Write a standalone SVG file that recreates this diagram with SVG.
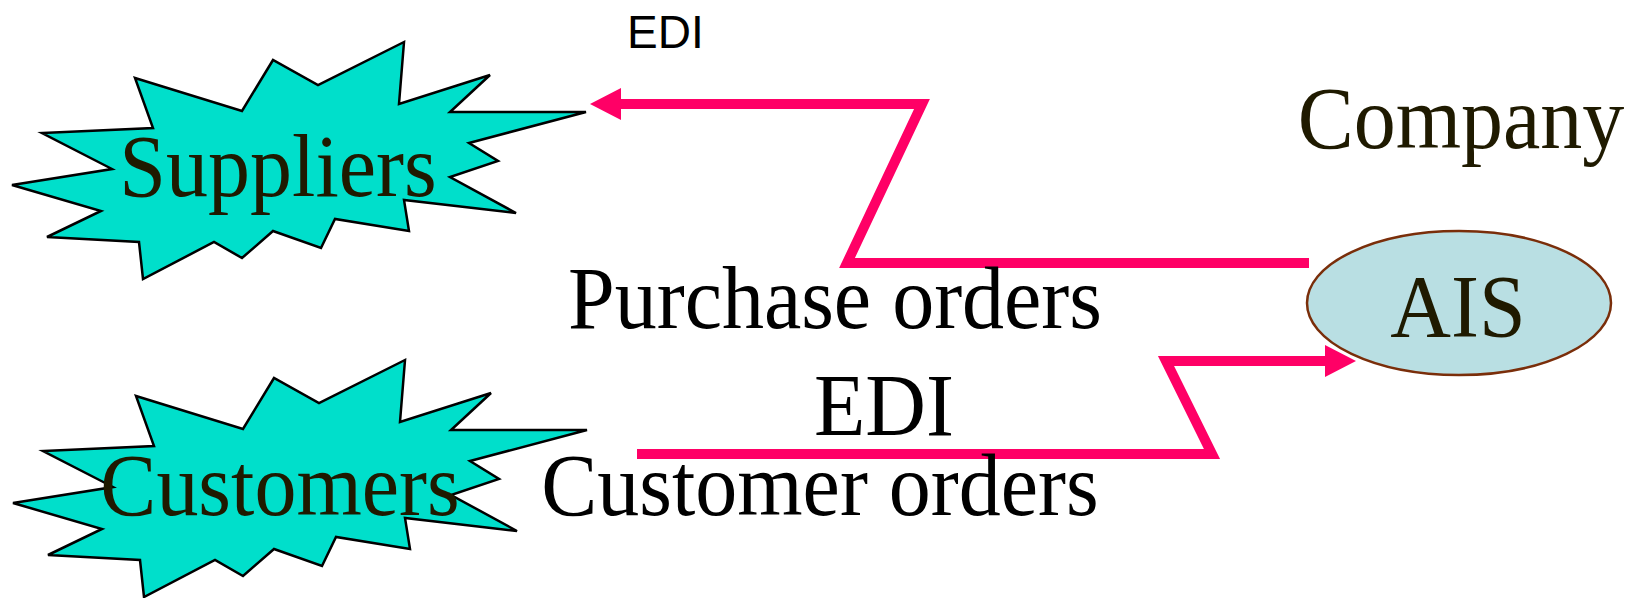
<svg xmlns="http://www.w3.org/2000/svg" width="1633" height="598" viewBox="0 0 1633 598">
<style>
.burst{fill:#00DFCB;stroke:#000;stroke-width:2.5;stroke-linejoin:miter}
.big{font-family:"Liberation Serif","Times New Roman",serif;font-size:84px;text-anchor:middle}
.dark{fill:#1F1A00}
.blk{fill:#000}
.small{font-family:"Liberation Sans",Arial,sans-serif;font-size:46px;fill:#000}
.conn{fill:none;stroke:#FF0066;stroke-width:10;stroke-linejoin:miter;stroke-miterlimit:10}
</style>
<defs>
<polygon id="star" points="135,78 242,111 273,60 318,85 404,42 399,104 490,75 450,112 586,112 469,143 498,161 450,177 516,213 404,200 409,231 335,219 321,248 273,231 242,258 214,242 143,279 139,242 47,237 101,211 12,185 112,169 42,133 153,128"/>
<marker id="arrow" viewBox="0 -16 31 32" markerWidth="31" markerHeight="32" refX="0" refY="0" orient="auto" markerUnits="userSpaceOnUse">
<path d="M0,-16 L31,0 L0,16 z" fill="#FF0066"/>
</marker>
</defs>
<g id="suppliers">
<use href="#star" class="burst"/>
<text class="big dark" transform="translate(278,196) scale(1,1.05)">Suppliers</text>
</g>
<g id="customers">
<use href="#star" class="burst" transform="translate(1,318)"/>
<text class="big dark" transform="translate(280,515) scale(1,1.05)">Customers</text>
</g>
<g id="company">
<text class="big dark" transform="translate(1461,148) scale(1,1.05)">Company</text>
</g>
<g id="ais">
<ellipse cx="1459" cy="303" rx="152" ry="72" fill="#B9DFE3" stroke="#7A2E0A" stroke-width="2.5"/>
<text class="big dark" transform="translate(1458,336) scale(1,1.05)">AIS</text>
</g>
<g id="connectors">
<polyline class="conn" points="1309,263 847,263 922,104 621,104" marker-end="url(#arrow)"/>
<polyline class="conn" points="637,454 1212,454 1166,361 1325,361" marker-end="url(#arrow)"/>
</g>
<g id="labels">
<text class="small" x="627" y="48">EDI</text>
<text class="big blk" transform="translate(835,328) scale(1,1.05)">Purchase orders</text>
<text class="big blk" transform="translate(884,435) scale(1,1.05)">EDI</text>
<text class="big blk" transform="translate(820,515) scale(1,1.05)">Customer orders</text>
</g>
</svg>
